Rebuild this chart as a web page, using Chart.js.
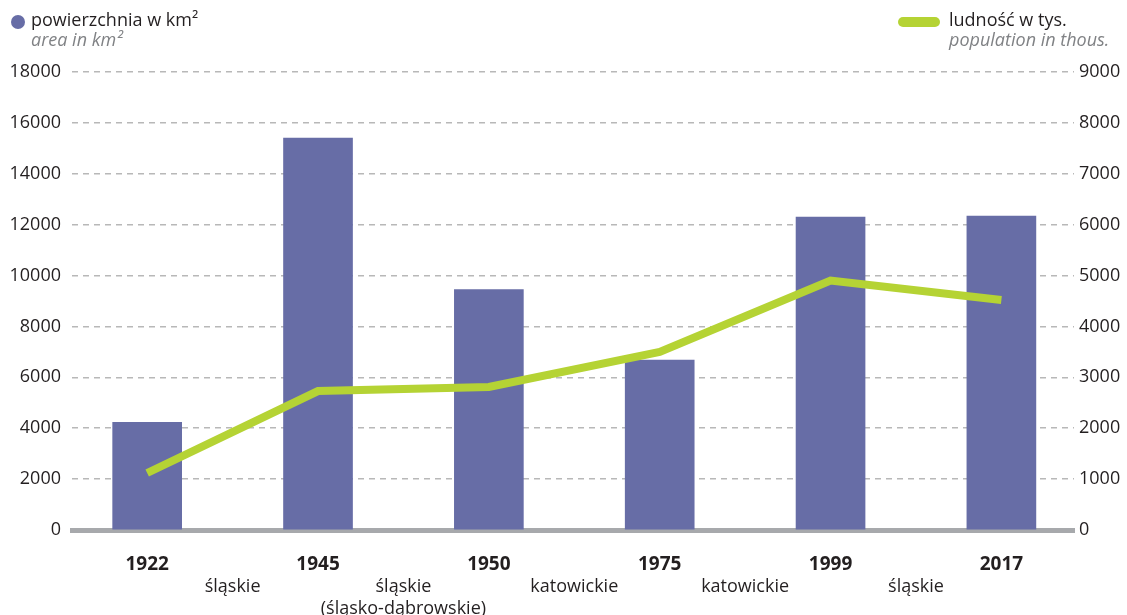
<!DOCTYPE html>
<html>
<head>
<meta charset="utf-8">
<script src="https://cdn.jsdelivr.net/npm/chart.js@4"></script>
<style>
  body { margin: 0; background: #fff; font-family: "Open Sans", sans-serif; }
  #wrap { position: relative; width: 1127px; height: 615px; }
  .leg { position: absolute; font-size: 18px; color: #231f20; white-space: nowrap; line-height: 20px; }
  .leg i { color: #808285; }
  .dot { position: absolute; left: 11px; top: 15px; width: 14px; height: 14px; border-radius: 50%; background: #676da6; }
  .pill { position: absolute; left: 898px; top: 17px; width: 42px; height: 10px; border-radius: 5px; background: #b5d334; }
</style>
</head>
<body>
<div id="wrap">
  <canvas id="chart"></canvas>
  <span class="dot"></span>
  <div class="leg" style="left:31px; top:9px;">powierzchnia w km²<br><i>area in km²</i></div>
  <span class="pill"></span>
  <div class="leg" style="left:949px; top:9px;">ludność w tys.<br><i>population in thous.</i></div>
</div>
<script>
// ── Data ────────────────────────────────────────────────
const years      = ["1922", "1945", "1950", "1975", "1999", "2017"];
const regions    = [["", "śląskie"], ["", "śląskie", "(śląsko-dąbrowskie)"], ["", "katowickie"], ["", "katowickie"], ["", "śląskie"]];
const area       = [4230, 15400, 9450, 6680, 12300, 12340];   // km²
const population = [1120, 2730, 2810, 3500, 4900, 4520];      // thous.
const leftTicks  = [0, 2000, 4000, 6000, 8000, 10000, 12000, 14000, 16000, 18000];
const rightTicks = [0, 1000, 2000, 3000, 4000, 5000, 6000, 7000, 8000, 9000];

const txtClr = "#231f20";
const font   = "'Open Sans', sans-serif";

function plain(v) { return String(v); }

new Chart(document.getElementById("chart"), {
  type: "bar",
  data: {
    datasets: [{
      type: "line",
      data: population.map(function (v, i) { return { x: i, y: v }; }),
      yAxisID: "y1",
      borderColor: "#b5d334",
      borderWidth: 8,
      pointRadius: 0,
      borderCapStyle: "butt",
      borderJoinStyle: "miter",
      tension: 0,
      order: 0
    }, {
      data: area.map(function (v, i) { return { x: i, y: v }; }),
      yAxisID: "y",
      backgroundColor: "#676da6",
      barThickness: 69,
      order: 1
    }]
  },
  options: {
    responsive: true,
    maintainAspectRatio: false,
    animation: false,
    layout: { padding: { top: 72, left: 0, right: 0, bottom: 0 } },
    plugins: { legend: { display: false }, tooltip: { enabled: false } },
    scales: {
      x: {
        type: "linear",
        offset: false,
        min: -0.44,
        max: 5.425,
        grid: { display: false },
        border: { display: true, color: "#a7a9ac", width: 5 },
        afterBuildTicks: function (scale) {
          var t = [];
          for (var i = 0; i < years.length; i++) {
            t.push({ value: i });
            if (i < regions.length) t.push({ value: i + 0.5 });
          }
          scale.ticks = t;
        },
        afterFit: function (scale) { scale.height = 85; },
        ticks: {
          autoSkip: false,
          maxRotation: 0,
          padding: 15,
          color: txtClr,
          font: function (ctx) {
            var v = ctx.tick ? ctx.tick.value : 0;
            return Number.isInteger(v)
              ? { family: font, size: 19, weight: "bold", lineHeight: "22.5px" }
              : { family: font, size: 18, lineHeight: "22.5px" };
          },
          callback: function (v) {
            return Number.isInteger(v) ? years[v] : regions[Math.floor(v)];
          }
        }
      },
      y: {
        position: "left",
        min: 0,
        max: 18000,
        afterBuildTicks: function (scale) {
          scale.ticks = leftTicks.map(function (v) { return { value: v }; });
        },
        afterFit: function (scale) { scale.width = 72; },
        grid: { color: "#b8b8b8", lineWidth: 1.5, drawTicks: false },
        border: { display: false, dash: [6, 5] },
        ticks: { padding: 11, color: txtClr, font: { family: font, size: 18 }, callback: plain }
      },
      y1: {
        position: "right",
        min: 0,
        max: 9000,
        afterBuildTicks: function (scale) {
          scale.ticks = rightTicks.map(function (v) { return { value: v }; });
        },
        afterFit: function (scale) { scale.width = 53; },
        grid: { display: false, drawTicks: false },
        border: { display: false },
        ticks: { padding: 5, color: txtClr, font: { family: font, size: 18 }, callback: plain }
      }
    }
  }
});
</script>
</body>
</html>
